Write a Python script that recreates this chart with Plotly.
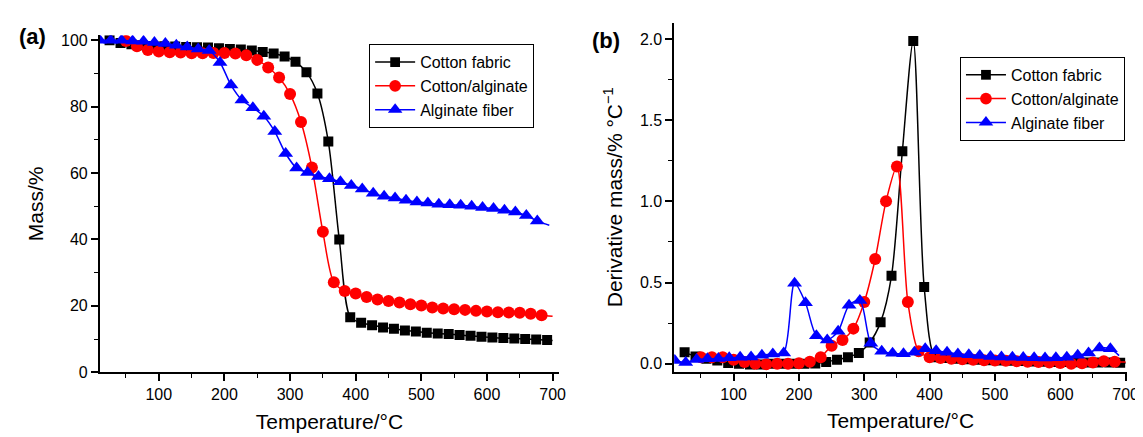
import plotly.graph_objects as go

# ---------------- data: panel (a) TG ----------------
cotton_T = [25, 41.7, 58.3, 75, 91.7, 108.3, 125, 141.7, 158.3, 175, 191.7, 208.3, 225, 241.7,
            258.3, 275, 291.7, 308.3, 325, 341.7, 358.3, 375, 391.7, 408.3, 425, 441.7, 458.3,
            475, 491.7, 508.3, 525, 541.7, 558.3, 575, 591.7, 608.3, 625, 641.7, 658.3, 675, 691.7]
cotton_mass = [100.0, 99.2, 98.8, 98.5, 98.3, 98.2, 98.1, 98.0, 97.9, 97.8, 97.6, 97.4, 97.2, 96.9,
               96.5, 96.0, 95.1, 93.5, 90.4, 84.0, 69.5, 40.0, 16.6, 14.9, 14.2, 13.5, 13.1,
               12.6, 12.3, 11.9, 11.7, 11.5, 11.2, 11.0, 10.7, 10.5, 10.3, 10.2, 10.0, 9.9, 9.7]

blend_T = [50, 66.7, 83.3, 100, 116.7, 133.3, 150, 166.7, 183.3, 200, 216.7, 233.3, 250, 266.7,
           283.3, 300, 316.7, 333.3, 350, 366.7, 383.3, 400, 416.7, 433.3, 450, 466.7, 483.3,
           500, 516.7, 533.3, 550, 566.7, 583.3, 600, 616.7, 633.3, 650, 666.7, 683.3]
blend_mass = [99.8, 98.2, 97.1, 96.6, 96.4, 96.3, 96.1, 96.1, 96.2, 96.2, 96.0, 95.5, 94.1, 91.8,
              88.8, 83.8, 75.4, 61.7, 42.3, 27.1, 24.5, 23.7, 22.7, 21.9, 21.5, 21.0, 20.5,
              20.1, 19.5, 19.2, 19.0, 18.8, 18.5, 18.3, 18.1, 18.0, 17.9, 17.6, 17.2]

alg_T = [10, 26.7, 43.3, 60, 76.7, 93.3, 110, 126.7, 143.3, 160, 176.7, 193.3, 210, 226.7,
         243.3, 260, 276.7, 293.3, 310, 326.7, 343.3, 360, 376.7, 393.3, 410, 426.7, 443.3,
         460, 476.7, 493.3, 510, 526.7, 543.3, 560, 576.7, 593.3, 610, 626.7, 643.3, 660, 676.7]
alg_mass = [100.0, 100.0, 100.0, 99.8, 99.7, 99.3, 99.0, 98.5, 98.0, 97.4, 96.9, 93.3, 86.5, 82.0,
            79.7, 77.1, 72.5, 65.9, 61.5, 60.2, 59.0, 58.3, 57.4, 56.3, 55.2, 53.9, 53.0,
            52.5, 51.8, 51.3, 51.0, 50.6, 50.5, 50.3, 50.0, 49.6, 49.3, 48.8, 48.3, 47.2, 45.6]

# end points of the recorded curves (beyond the last marker)
tg_end_T = [700, 700, 695]
tg_end_mass = [9.6, 16.9, 44.3]

# ---------------- data: panel (b) DTG ----------------
cotton_dtg = [0.07, 0.045, 0.03, 0.02, 0.005, 0.0, -0.005, -0.005, 0.0, 0.0, 0.0, 0.0, 0.002, 0.01,
              0.025, 0.04, 0.066, 0.13, 0.256, 0.541, 1.308, 1.988, 0.472, 0.04, 0.035, 0.03, 0.028,
              0.025, 0.022, 0.02, 0.018, 0.016, 0.014, 0.012, 0.011, 0.01, 0.009, 0.008, 0.008, 0.007, 0.006]
blend_dtg = [0.04, 0.04, 0.04, 0.025, 0.01, 0.0, -0.003, 0.0, 0.0, 0.003, 0.012, 0.04, 0.11, 0.146,
             0.216, 0.38, 0.645, 1.0, 1.214, 0.38, 0.076, 0.04, 0.035, 0.03, 0.028, 0.025, 0.022,
             0.02, 0.018, 0.015, 0.012, 0.01, 0.008, 0.005, 0.0, 0.003, 0.008, 0.015, 0.012]
alg_dtg = [0.02, 0.008, 0.026, 0.03, 0.032, 0.036, 0.04, 0.042, 0.052, 0.06, 0.066, 0.495, 0.375, 0.172,
           0.146, 0.2, 0.36, 0.39, 0.126, 0.076, 0.065, 0.062, 0.07, 0.092, 0.08, 0.07, 0.06,
           0.055, 0.05, 0.045, 0.042, 0.04, 0.038, 0.036, 0.035, 0.036, 0.04, 0.052, 0.066, 0.096, 0.092]

dtg_end_T = [700, 700, 690]
dtg_end_val = [0.004, 0.01, 0.05]

names = ["Cotton fabric", "Cotton/alginate", "Alginate fiber"]
colors = ["#000000", "#FF0000", "#0000FF"]
symbols = ["square", "circle", "triangle-up"]
sizes = [10, 12, 13]

FONT = "Liberation Sans, Arial, Helvetica, sans-serif"

fig = go.Figure()

tg = [(cotton_T, cotton_mass), (blend_T, blend_mass), (alg_T, alg_mass)]
dtg = [(cotton_T, cotton_dtg), (blend_T, blend_dtg), (alg_T, alg_dtg)]


def add_series(x, y, xe, ye, i, xa, ya, leg):
    xs = list(x) + [xe]
    ys = list(y) + [ye]
    msize = [sizes[i]] * len(x) + [0]
    fig.add_trace(go.Scatter(
        x=xs, y=ys, name=names[i], mode="lines+markers",
        line=dict(color=colors[i], width=1.5, shape="spline", smoothing=0.8),
        marker=dict(symbol=symbols[i], size=msize, color=colors[i], opacity=1,
                    line=dict(width=0)),
        xaxis=xa, yaxis=ya, legend=leg))


for i in range(3):
    add_series(tg[i][0], tg[i][1], tg_end_T[i], tg_end_mass[i], i, "x", "y", "legend")
for i in range(3):
    add_series(dtg[i][0], dtg[i][1], dtg_end_T[i], dtg_end_val[i], i, "x2", "y2", "legend2")

axis_common = dict(
    showline=True, linecolor="black", linewidth=1.5, mirror=False,
    ticks="outside", ticklen=7, tickwidth=1.5, tickcolor="black",
    showgrid=False, zeroline=False,
    tickfont=dict(family=FONT, size=16, color="black"),
)
minor_common = dict(ticks="outside", ticklen=4, tickcolor="black", tickwidth=1.2, showgrid=False)

fig.update_layout(
    width=1143, height=437,
    margin=dict(l=0, r=0, t=0, b=0),
    paper_bgcolor="white", plot_bgcolor="white",
    font=dict(family=FONT, color="black"),
    xaxis=dict(domain=[0.0811, 0.4873], range=[10, 710], dtick=100, tick0=0,
               minor=dict(dtick=50, **minor_common),
               title=dict(text="Temperature/°C", font=dict(size=21), standoff=12),
               anchor="y", **axis_common),
    yaxis=dict(domain=[0.1499, 0.9428], range=[0, 101.5], dtick=20, tick0=0,
               minor=dict(dtick=10, **minor_common),
               title=dict(text="Mass/%", font=dict(size=21), standoff=12),
               anchor="x", **axis_common),
    xaxis2=dict(domain=[0.589, 0.9893], range=[9, 702], dtick=100, tick0=0,
                minor=dict(dtick=50, **minor_common),
                title=dict(text="Temperature/°C", font=dict(size=21), standoff=12),
                anchor="y2", **axis_common),
    yaxis2=dict(domain=[0.151, 0.9725], range=[-0.05, 2.1], dtick=0.5, tick0=0, tickformat=".1f",
                minor=dict(dtick=0.25, **minor_common),
                title=dict(text="Derivative mass/% °C<sup>−1</sup>", font=dict(size=21), standoff=12),
                anchor="x2", **axis_common),
    legend=dict(x=0.3193, y=0.922, xanchor="left", yanchor="top", itemwidth=40,
                bordercolor="black", borderwidth=1, bgcolor="white",
                font=dict(family=FONT, size=16, color="black")),
    legend2=dict(x=0.8417, y=0.892, xanchor="left", yanchor="top", itemwidth=40,
                 bordercolor="black", borderwidth=1, bgcolor="white",
                 font=dict(family=FONT, size=16, color="black")),
    annotations=[
        dict(text="<b>(a)</b>", x=9 / 1143, y=1 - 26 / 437, xref="paper", yref="paper", showarrow=False,
             font=dict(family=FONT, size=22, color="black"), xanchor="left", yanchor="middle"),
        dict(text="<b>(b)</b>", x=588 / 1143, y=1 - 30 / 437, xref="paper", yref="paper", showarrow=False,
             font=dict(family=FONT, size=22, color="black"), xanchor="left", yanchor="middle"),
    ],
)

fig.write_html("out.html")
